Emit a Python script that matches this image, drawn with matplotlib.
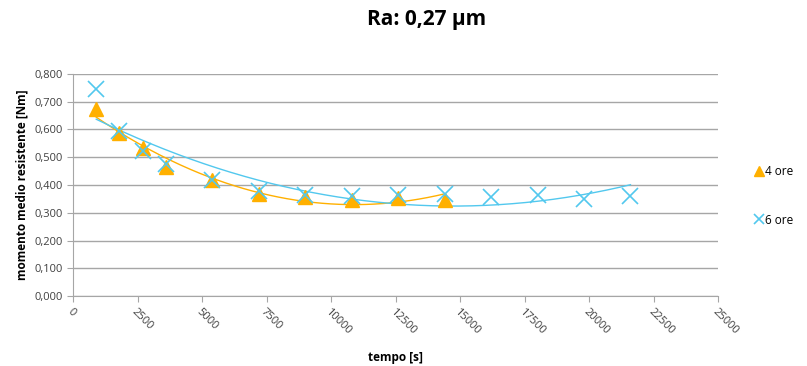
import numpy as np
import matplotlib
matplotlib.use("Agg")
import matplotlib.pyplot as plt
from matplotlib.ticker import FuncFormatter, MultipleLocator

# tempo [s]
t_4ore = [900, 1800, 2700, 3600, 5400, 7200, 9000, 10800, 12600, 14400]
m_4ore = [0.672, 0.589, 0.533, 0.464, 0.419, 0.368, 0.356, 0.346, 0.353, 0.346]

t_6ore = [900, 1800, 2700, 3600, 5400, 7200, 9000, 10800, 12600,
          14400, 16200, 18000, 19800, 21600]
m_6ore = [0.746, 0.595, 0.521, 0.476, 0.419, 0.379, 0.364, 0.361, 0.365,
          0.367, 0.358, 0.364, 0.349, 0.361]

ORANGE = '#FFB000'
BLUE = '#52C8EE'
GRID = '#A6A6A6'

plt.rcParams['font.family'] = ['Open Sans', 'DejaVu Sans']

fig = plt.figure(figsize=(8.07, 3.66), dpi=100)
ax = fig.add_axes([0.0905, 0.191, 0.7995, 0.607])

# polynomial trendlines (order 2), like the spreadsheet
for t, m, col in [(t_4ore, m_4ore, ORANGE), (t_6ore, m_6ore, BLUE)]:
    coef = np.polyfit(t, m, 2)
    xs = np.linspace(min(t), max(t), 200)
    ax.plot(xs, np.polyval(coef, xs), color=col, lw=1.0, zorder=2)

ax.plot(t_4ore, m_4ore, ls='none', marker='^', ms=10, color=ORANGE,
        label='4 ore', zorder=3)
ax.plot(t_6ore, m_6ore, ls='none', marker='x', ms=11, mew=1.2, color=BLUE,
        label='6 ore', zorder=4)

ax.set_xlim(0, 25000)
ax.set_ylim(0, 0.8)
ax.xaxis.set_major_locator(MultipleLocator(2500))
ax.yaxis.set_major_locator(MultipleLocator(0.1))
ax.yaxis.set_major_formatter(FuncFormatter(lambda v, p: f"{v:.3f}".replace('.', ',')))
ax.xaxis.set_major_formatter(FuncFormatter(lambda v, p: f"{int(v)}"))

ax.grid(axis='y', color=GRID, lw=1.0)
ax.set_axisbelow(True)
for s in ['top', 'right']:
    ax.spines[s].set_visible(False)
for s in ['left', 'bottom']:
    ax.spines[s].set_color(GRID)
ax.tick_params(axis='both', colors=GRID, labelcolor='#404040', labelsize=8,
               length=4, direction='out')
plt.setp(ax.get_xticklabels(), rotation=-45, ha='left', rotation_mode='anchor')

ax.set_xlabel('tempo [s]', fontsize=8.5, fontweight='bold', labelpad=10)
ax.set_ylabel('momento medio resistente [Nm]', fontsize=8.5, fontweight='bold')
fig.text(0.528, 0.948, 'Ra: 0,27 µm', ha='center', va='center',
         fontsize=15, fontweight='bold')

fig.legend(loc='center left', bbox_to_anchor=(0.922, 0.465), frameon=False,
           fontsize=8.5, labelspacing=3.0, handlelength=0.7, handletextpad=0.2,
           markerscale=0.65)

fig.savefig('out.png', dpi=100)
